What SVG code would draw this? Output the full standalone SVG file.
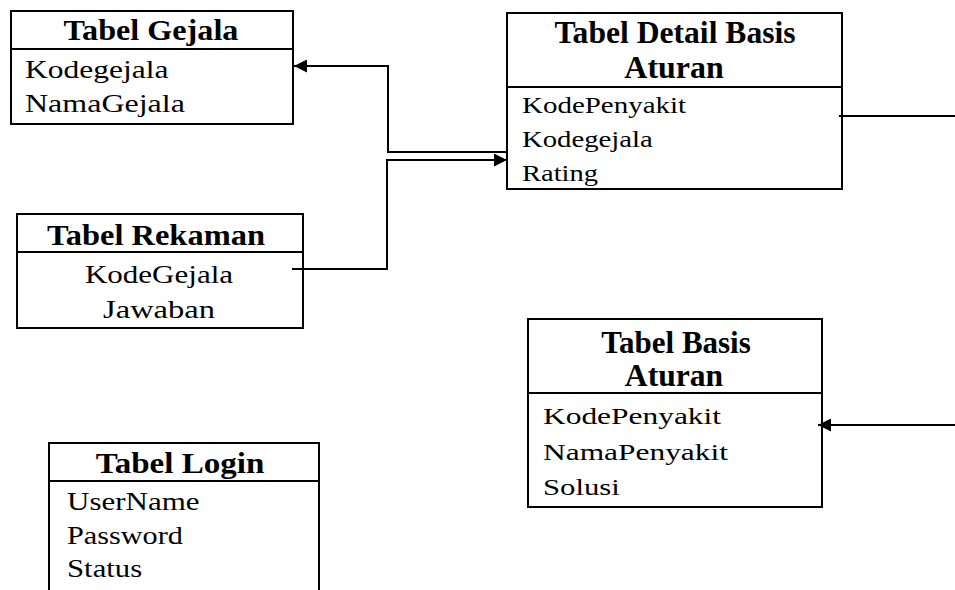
<svg xmlns="http://www.w3.org/2000/svg" width="955" height="590" viewBox="0 0 955 590">
  <style>
    .box { fill: #ffffff; stroke: #000000; stroke-width: 2; }
    .sep { stroke: #000000; stroke-width: 2; }
    text { font-family: "Liberation Serif", "Times New Roman", serif; fill: #000; }
    .title { font-weight: bold; font-size: 29px; }
    .titleL { font-weight: bold; font-size: 31px; }
    .row { font-size: 25px; }
    .rowS { font-size: 23px; }
    .rowM { font-size: 24px; }
    .mid { text-anchor: middle; }
    .link { fill: none; stroke: #000000; stroke-width: 2; }
  </style>
  <defs>
    <marker id="arrow" viewBox="0 0 10 10" refX="10" refY="5" markerWidth="16" markerHeight="13" markerUnits="userSpaceOnUse" orient="auto">
      <path d="M0,0 L10,5 L0,10 Z" fill="#000"/>
    </marker>
  </defs>

  <!-- each table: outer frame, header rule, header text, field list -->
  <g id="tabel-gejala">
    <rect class="box" x="11" y="11" width="282" height="113"/>
    <line class="sep" x1="11" y1="49" x2="293" y2="49"/>
    <text class="title mid" transform="translate(151,40) scale(1.11,1)">Tabel Gejala</text>
    <text class="row" transform="translate(25,78) scale(1.26,1)">Kodegejala</text>
    <text class="row" transform="translate(25,112) scale(1.28,1)">NamaGejala</text>
  </g>

  <g id="tabel-detail-basis-aturan">
    <rect class="box" x="507" y="13" width="335" height="176"/>
    <line class="sep" x1="507" y1="87" x2="842" y2="87"/>
    <text class="titleL mid" transform="translate(675,43) scale(1.02,1)">Tabel Detail Basis</text>
    <text class="titleL mid" transform="translate(674,78) scale(1.03,1)">Aturan</text>
    <text class="rowS" transform="translate(522,113) scale(1.26,1)">KodePenyakit</text>
    <text class="rowS" transform="translate(522,147) scale(1.25,1)">Kodegejala</text>
    <text class="rowS" transform="translate(522,181) scale(1.24,1)">Rating</text>
  </g>

  <g id="tabel-rekaman">
    <rect class="box" x="17" y="214" width="286" height="114"/>
    <line class="sep" x1="17" y1="252" x2="303" y2="252"/>
    <text class="title mid" transform="translate(156,245) scale(1.12,1)">Tabel Rekaman</text>
    <text class="row mid" transform="translate(159,283) scale(1.24,1)">KodeGejala</text>
    <text class="row mid" transform="translate(159,318) scale(1.3,1)">Jawaban</text>
  </g>

  <g id="tabel-basis-aturan">
    <rect class="box" x="528" y="319" width="294" height="188"/>
    <line class="sep" x1="528" y1="393" x2="822" y2="393"/>
    <text class="titleL mid" transform="translate(676,353) scale(1.0,1)">Tabel Basis</text>
    <text class="titleL mid" transform="translate(674,386) scale(1.02,1)">Aturan</text>
    <text class="rowM" transform="translate(543,424) scale(1.31,1)">KodePenyakit</text>
    <text class="rowM" transform="translate(543,460) scale(1.31,1)">NamaPenyakit</text>
    <text class="rowM" transform="translate(543,495) scale(1.28,1)">Solusi</text>
  </g>

  <g id="tabel-login">
    <rect class="box" x="49" y="443" width="270" height="160"/>
    <line class="sep" x1="49" y1="481" x2="319" y2="481"/>
    <text class="title mid" transform="translate(180,473) scale(1.14,1)">Tabel Login</text>
    <text class="row" transform="translate(67,510) scale(1.24,1)">UserName</text>
    <text class="row" transform="translate(67,544) scale(1.21,1)">Password</text>
    <text class="row" transform="translate(67,577) scale(1.23,1)">Status</text>
  </g>

  <!-- relations between tables -->
  <g id="connectors">
    <path class="link" d="M508,152 L388,152 L388,66 L294,66" marker-end="url(#arrow)"/>
    <path class="link" d="M292,269 L387,269 L387,160 L507,160" marker-end="url(#arrow)"/>
    <path class="link" d="M839,116 L955,116"/>
    <path class="link" d="M955,425 L818,425" marker-end="url(#arrow)"/>
  </g>
</svg>
